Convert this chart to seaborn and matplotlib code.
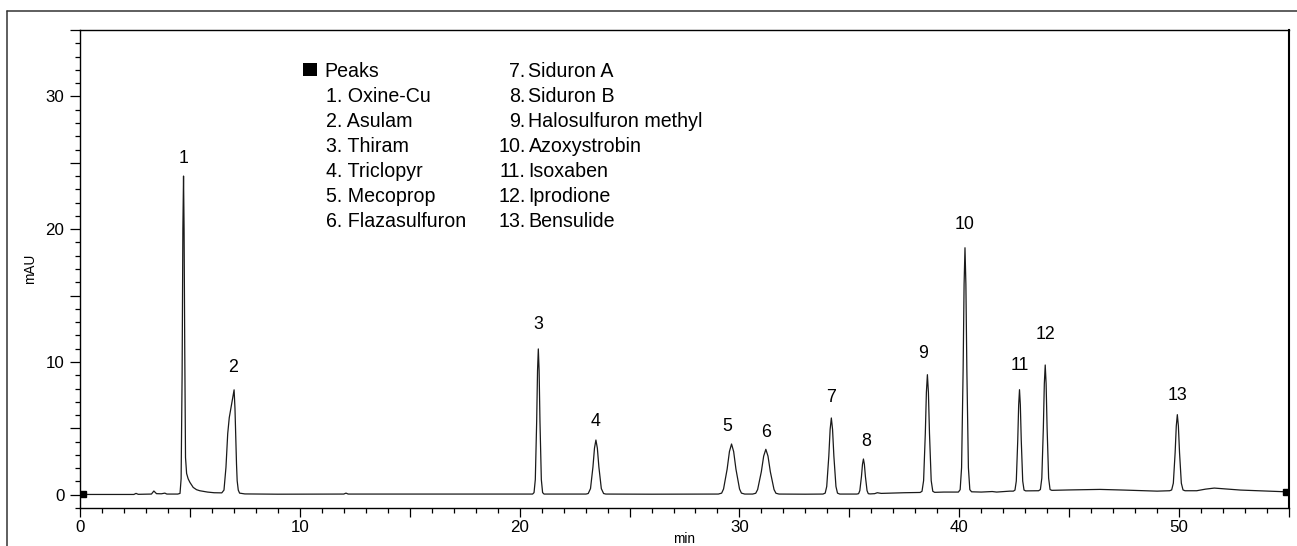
import numpy as np
import pandas as pd
import matplotlib
matplotlib.use("Agg")
import matplotlib.pyplot as plt
from matplotlib.ticker import MultipleLocator, FuncFormatter
from matplotlib.patches import Rectangle
from matplotlib.lines import Line2D
import seaborn as sns

# ---------------- data ----------------
trace_time = [
    0.13, 1.5, 2.45, 2.55, 2.65, 3.25, 3.36, 3.48, 3.7, 3.86, 3.95, 4.45,
    4.55, 4.60, 4.645, 4.68, 4.71, 4.735, 4.765, 4.80, 4.85, 4.92, 5.0, 5.15,
    5.3, 5.45, 5.8, 6.1, 6.45,
    6.55, 6.64, 6.72, 6.79, 6.9, 6.97, 7.01, 7.05, 7.08, 7.12, 7.15, 7.2, 7.26,
    7.5, 9.0, 12.0, 12.1, 12.2, 15.0, 18.0,
    20.59, 20.655, 20.713, 20.775, 20.814, 20.85, 20.886, 20.925, 20.987, 21.045, 21.11,
    22.0,
    23.02, 23.12, 23.224, 23.335, 23.405, 23.47, 23.535, 23.605, 23.716, 23.82, 23.92,
    26.0,
    29.04, 29.19, 29.276, 29.44, 29.544, 29.64, 29.736, 29.84, 30.004, 30.09, 30.24,
    30.6, 30.74, 30.827, 30.995, 31.102, 31.20, 31.298, 31.405, 31.573, 31.66, 31.8,
    33.0,
    33.80, 33.90, 33.97, 34.065, 34.125, 34.18, 34.235, 34.295, 34.39, 34.46, 34.56,
    35.34, 35.42, 35.476, 35.55, 35.597, 35.64, 35.683, 35.73, 35.804, 35.86, 35.94,
    36.15, 36.27, 36.45, 37.5,
    38.22, 38.305, 38.377, 38.455, 38.504, 38.55, 38.596, 38.645, 38.723, 38.795, 38.88,
    39.3,
    39.96, 40.04, 40.105, 40.175, 40.219, 40.26, 40.301, 40.345, 40.415, 40.48, 40.56,
    41.0, 41.5, 41.7, 42.3,
    42.46, 42.534, 42.594, 42.66, 42.702, 42.74, 42.778, 42.82, 42.886, 42.946, 43.02,
    43.61, 43.69, 43.755, 43.825, 43.869, 43.91, 43.951, 43.995, 44.065, 44.13, 44.21,
    45.0, 46.4, 47.5, 49.0,
    49.57, 49.662, 49.738, 49.82, 49.872, 49.92, 49.968, 50.02, 50.102, 50.178, 50.27,
    50.8, 51.2, 51.6, 52.0, 52.8, 54.0, 54.87,
]
trace_mau = [
    0.02, 0.02, 0.02, 0.10, 0.03, 0.05, 0.28, 0.08, 0.07, 0.12, 0.05, 0.05,
    0.10, 1.2, 9.0, 20.0, 24.0, 20.0, 11.0, 2.8, 1.6, 1.2, 0.93, 0.55,
    0.38, 0.30, 0.20, 0.15, 0.14,
    0.35, 2.06, 4.6, 5.8, 6.85, 7.5, 7.9, 6.5, 4.6, 2.3, 1.05, 0.35, 0.12,
    0.06, 0.04, 0.05, 0.12, 0.05, 0.05, 0.05,
    0.05, 0.16, 1.14, 5.52, 9.34, 10.98, 9.34, 5.52, 1.14, 0.16, 0.05,
    0.05,
    0.05, 0.09, 0.46, 2.09, 3.51, 4.12, 3.51, 2.09, 0.46, 0.09, 0.05,
    0.04,
    0.05, 0.12, 0.43, 1.93, 3.25, 3.82, 3.25, 1.93, 0.43, 0.12, 0.05,
    0.05, 0.11, 0.39, 1.73, 2.91, 3.42, 2.91, 1.73, 0.39, 0.11, 0.05,
    0.04,
    0.05, 0.12, 0.62, 2.91, 4.92, 5.78, 4.92, 2.91, 0.62, 0.12, 0.05,
    0.05, 0.08, 0.31, 1.37, 2.29, 2.69, 2.29, 1.37, 0.31, 0.08, 0.06,
    0.08, 0.15, 0.10, 0.15,
    0.17, 0.26, 1.06, 4.61, 7.71, 9.04, 7.71, 4.61, 1.06, 0.26, 0.18,
    0.20,
    0.20, 0.38, 2.04, 9.4, 15.84, 18.6, 15.84, 9.4, 2.04, 0.38, 0.22,
    0.20, 0.24, 0.20, 0.27,
    0.27, 0.35, 1.03, 4.09, 6.76, 7.91, 6.76, 4.09, 1.03, 0.35, 0.29,
    0.30, 0.39, 1.25, 5.04, 8.35, 9.77, 8.35, 5.04, 1.25, 0.39, 0.33,
    0.36, 0.40, 0.35, 0.27,
    0.30, 0.36, 0.87, 3.17, 5.17, 6.03, 5.17, 3.17, 0.87, 0.36, 0.30,
    0.30, 0.42, 0.50, 0.45, 0.35, 0.27, 0.22,
]

peak_numbers = [1, 2, 3, 4, 5, 6, 7, 8, 9, 10, 11, 12, 13]
peak_rt = [4.71, 7.01, 20.85, 23.47, 29.64, 31.20, 34.18, 35.64, 38.55, 40.26, 42.74, 43.91, 49.92]
peak_apex = [24.0, 7.9, 10.98, 4.12, 3.82, 3.42, 5.78, 2.69, 9.04, 18.6, 7.91, 9.77, 6.03]
compound_names = ["Oxine-Cu", "Asulam", "Thiram", "Triclopyr", "Mecoprop", "Flazasulfuron",
                  "Siduron A", "Siduron B", "Halosulfuron methyl", "Azoxystrobin",
                  "Isoxaben", "Iprodione", "Bensulide"]
legend_title = "Peaks"
x_label = "min"
y_label = "mAU"

# ---------------- layout (pixels) ----------------
W, H = 1297, 546
label_dx_px = [0, -1, 0, 0, -4, 0, 0, 2.5, -4, 0, 0, 0, 0]
label_dy_px = [19, 24, 26, 20, 19.5, 19, 22, 19.5, 23, 25, 25.5, 32, 21]

sns.set_theme(style="ticks")
plt.rcParams["font.family"] = ["Liberation Sans", "DejaVu Sans"]

fig = plt.figure(figsize=(W / 100, H / 100), dpi=100)
ax = fig.add_axes([80 / W, 1 - 508 / H, 1209 / W, 478 / H])

df = pd.DataFrame({"time": trace_time, "mAU": trace_mau})
sns.lineplot(data=df, x="time", y="mAU", ax=ax, color="#1a1a1a", linewidth=0.9,
             estimator=None, sort=False)
# end markers of the trace
ax.plot([df["time"].iloc[0], df["time"].iloc[-1]], [df["mAU"].iloc[0], df["mAU"].iloc[-1]],
        linestyle="none", marker="s", markersize=4.3, color="black")

ax.set_xlim(0, 55)
ax.set_ylim(-1, 35)

fmt = FuncFormatter(lambda v, p: f"{int(round(v))}" if int(round(v)) % 10 == 0 else "")
for axis in (ax.xaxis, ax.yaxis):
    axis.set_major_locator(MultipleLocator(5))
    axis.set_minor_locator(MultipleLocator(1))
    axis.set_major_formatter(fmt)

ax.tick_params(axis="both", which="both", direction="out", color="black", width=0.9,
               labelsize=12.2, labelcolor="black")
ax.tick_params(axis="y", which="major", length=7.2, pad=4.0)
ax.tick_params(axis="y", which="minor", length=3.6)
ax.tick_params(axis="x", which="major", length=6.5, pad=2.0)
ax.tick_params(axis="x", which="minor", length=3.4)
for s in ax.spines.values():
    s.set_visible(True)
    s.set_color("black")
    s.set_linewidth(1.0)
ax.spines["right"].set_linewidth(1.5)

ax.set_xlabel(x_label, fontsize=9.8, color="black")
ax.set_ylabel(y_label, fontsize=9.8, color="black")
ax.xaxis.set_label_coords(0.5, -0.064)
ax.yaxis.set_label_coords(-0.0414, 0.5)
ax.xaxis.label.set_va("center")
ax.yaxis.label.set_va("center")

# peak labels
cap_half = 6.2
for n, t, h, dx, dy in zip(peak_numbers, peak_rt, peak_apex, label_dx_px, label_dy_px):
    ax.annotate(str(n), xy=(t, h), xytext=(dx * 0.72, (dy - cap_half) * 0.72),
                textcoords="offset points", ha="center", va="baseline",
                fontsize=12.8, color="black")

# legend block (in figure pixels)
def fx(x):
    return x / W

def fy(y):
    return 1 - y / H

fs_leg = 14.1
base0, step = 77.4, 25.0
fig.patches.append(Rectangle((fx(303), fy(76.5)), 14 / W, 13.5 / H, transform=fig.transFigure,
                             facecolor="black", edgecolor="none"))
fig.text(fx(324), fy(base0), legend_title, fontsize=fs_leg, va="baseline", ha="left", color="black")
for i, name in enumerate(compound_names):
    num = peak_numbers[i]
    if i < 6:
        fig.text(fx(326), fy(base0 + step * (i + 1)), f"{num}. {name}", fontsize=fs_leg,
                 va="baseline", ha="left", color="black")
    else:
        yb = fy(base0 + step * (i - 6))
        fig.text(fx(525.5), yb, f"{num}.", fontsize=fs_leg, va="baseline", ha="right", color="black")
        fig.text(fx(528.5), yb, name, fontsize=fs_leg, va="baseline", ha="left", color="black")

# outer frame lines
fig.add_artist(Line2D([fx(7), fx(7)], [fy(11), fy(560)], transform=fig.transFigure,
                      color="#333333", linewidth=1.1))
fig.add_artist(Line2D([fx(7), fx(1310)], [fy(11), fy(11)], transform=fig.transFigure,
                      color="#333333", linewidth=1.1))

fig.savefig("out.png", dpi=100)
